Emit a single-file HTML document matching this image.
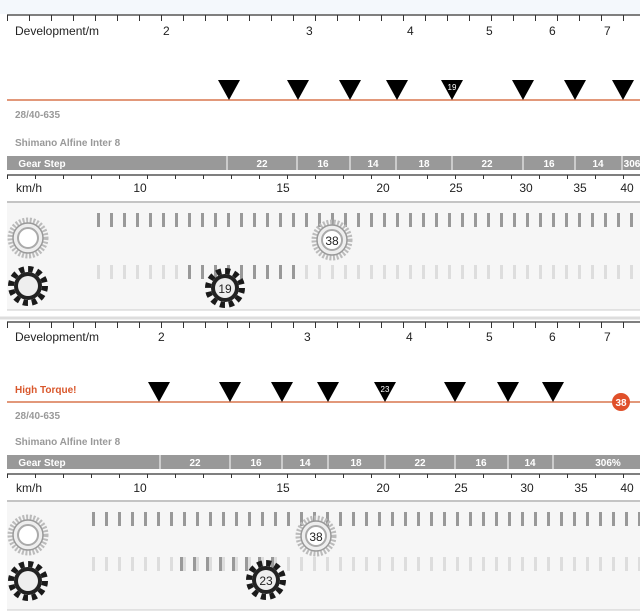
<html><head><style>body{margin:0;background:#fff}svg{display:block;font-family:"Liberation Sans",sans-serif}</style></head><body>
<svg width="640" height="614" viewBox="0 0 640 614" xmlns="http://www.w3.org/2000/svg">
<defs>
<g id="ring"><circle r="18" fill="none" stroke="#bbb" stroke-width="5" stroke-dasharray="2 1.6"/><circle r="15" fill="#eee" stroke="#999" stroke-width="1.5"/><circle r="10" fill="#fff" stroke="#aaa" stroke-width="2"/></g>
<g id="cog"><circle r="17" fill="none" stroke="#1a1a1a" stroke-width="6" stroke-dasharray="5 3.9"/><circle r="14" fill="#222"/><circle r="10" fill="#eee"/></g>
<path id="tri" d="M-11,-20 L11,-20 L0,0 Z" fill="#000"/>
</defs>
<rect x="0" y="0" width="640" height="14" fill="#f4f8fc"/>
<!-- panel 1 -->
<line x1="7" y1="15" x2="640" y2="15" stroke="#333" stroke-width="1.2"/>
<line x1="7" y1="18" x2="640" y2="18" stroke="#333" stroke-width="6" stroke-dasharray="1 21"/>
<g font-size="12" fill="#222"><text x="15" y="35">Development/m</text>
<text x="163" y="35">2</text><text x="306" y="35">3</text><text x="407" y="35">4</text><text x="486" y="35">5</text><text x="549" y="35">6</text><text x="604" y="35">7</text></g>
<line x1="7" y1="100" x2="640" y2="100" stroke="#d9774f" stroke-width="1.5"/>
<use href="#tri" x="229" y="100"/><use href="#tri" x="298" y="100"/><use href="#tri" x="350" y="100"/><use href="#tri" x="397" y="100"/><use href="#tri" x="452" y="100"/><use href="#tri" x="523" y="100"/><use href="#tri" x="575" y="100"/><use href="#tri" x="623" y="100"/>
<text x="452" y="90" font-size="8" fill="#fff" text-anchor="middle">19</text>
<g font-size="10" font-weight="bold" fill="#999"><text x="15" y="118">28/40-635</text><text x="15" y="146">Shimano Alfine Inter 8</text></g>
<rect x="7" y="156" width="633" height="14" fill="#999"/>
<g stroke="#fff" stroke-width="1"><line x1="227" y1="156" x2="227" y2="170"/><line x1="297" y1="156" x2="297" y2="170"/><line x1="350" y1="156" x2="350" y2="170"/><line x1="396" y1="156" x2="396" y2="170"/><line x1="452" y1="156" x2="452" y2="170"/><line x1="523" y1="156" x2="523" y2="170"/><line x1="575" y1="156" x2="575" y2="170"/><line x1="622" y1="156" x2="622" y2="170"/></g>
<g font-size="10" font-weight="bold" fill="#fff" text-anchor="middle"><text x="42" y="167">Gear Step</text><text x="262" y="167">22</text><text x="323" y="167">16</text><text x="373" y="167">14</text><text x="424" y="167">18</text><text x="487" y="167">22</text><text x="549" y="167">16</text><text x="598" y="167">14</text><text x="632" y="167">306</text></g>
<line x1="7" y1="175" x2="640" y2="175" stroke="#333" stroke-width="1.2"/>
<line x1="7" y1="177" x2="640" y2="177" stroke="#333" stroke-width="4" stroke-dasharray="1 27"/>
<g font-size="12" fill="#222" text-anchor="middle"><text x="29" y="192">km/h</text><text x="140" y="192">10</text><text x="283" y="192">15</text><text x="383" y="192">20</text><text x="456" y="192">25</text><text x="526" y="192">30</text><text x="580" y="192">35</text><text x="627" y="192">40</text></g>
<line x1="7" y1="202" x2="640" y2="202" stroke="#888"/>
<rect x="7" y="203" width="633" height="107" fill="#f6f6f6"/>
<line x1="7" y1="310" x2="640" y2="310" stroke="#ccc"/>
<line x1="97" y1="220" x2="640" y2="220" stroke="#999" stroke-width="14" stroke-dasharray="3 10"/>
<line x1="97" y1="272" x2="640" y2="272" stroke="#ddd" stroke-width="14" stroke-dasharray="3 10"/>
<line x1="188" y1="272" x2="300" y2="272" stroke="#999" stroke-width="14" stroke-dasharray="3 10"/>
<use href="#ring" x="28" y="238"/><use href="#cog" x="28" y="286"/>
<use href="#ring" x="332" y="240"/><text x="332" y="245" font-size="12" text-anchor="middle" fill="#222">38</text>
<use href="#cog" x="225" y="288"/><text x="225" y="293" font-size="12" text-anchor="middle" fill="#222">19</text>
<line x1="0" y1="318" x2="640" y2="318" stroke="#ddd" stroke-width="3"/>
<!-- panel 2 -->
<line x1="7" y1="322" x2="640" y2="322" stroke="#333" stroke-width="1.2"/>
<line x1="7" y1="325" x2="640" y2="325" stroke="#333" stroke-width="6" stroke-dasharray="1 21"/>
<g font-size="12" fill="#222"><text x="15" y="341">Development/m</text>
<text x="158" y="341">2</text><text x="304" y="341">3</text><text x="406" y="341">4</text><text x="486" y="341">5</text><text x="549" y="341">6</text><text x="604" y="341">7</text></g>
<text x="15" y="393" font-size="10" font-weight="bold" fill="#d9572b">High Torque!</text>
<line x1="7" y1="402" x2="640" y2="402" stroke="#d9774f" stroke-width="1.5"/>
<use href="#tri" x="159" y="402"/><use href="#tri" x="230" y="402"/><use href="#tri" x="282" y="402"/><use href="#tri" x="328" y="402"/><use href="#tri" x="385" y="402"/><use href="#tri" x="455" y="402"/><use href="#tri" x="508" y="402"/><use href="#tri" x="553" y="402"/>
<text x="385" y="392" font-size="8" fill="#fff" text-anchor="middle">23</text>
<circle cx="621" cy="402" r="9" fill="#e0502a"/><text x="621" y="406" font-size="10" font-weight="bold" fill="#fff" text-anchor="middle">38</text>
<g font-size="10" font-weight="bold" fill="#999"><text x="15" y="419">28/40-635</text><text x="15" y="445">Shimano Alfine Inter 8</text></g>
<rect x="7" y="455" width="633" height="14" fill="#999"/>
<g stroke="#fff" stroke-width="1"><line x1="160" y1="455" x2="160" y2="469"/><line x1="230" y1="455" x2="230" y2="469"/><line x1="282" y1="455" x2="282" y2="469"/><line x1="328" y1="455" x2="328" y2="469"/><line x1="385" y1="455" x2="385" y2="469"/><line x1="455" y1="455" x2="455" y2="469"/><line x1="508" y1="455" x2="508" y2="469"/><line x1="553" y1="455" x2="553" y2="469"/></g>
<g font-size="10" font-weight="bold" fill="#fff" text-anchor="middle"><text x="42" y="466">Gear Step</text><text x="195" y="466">22</text><text x="256" y="466">16</text><text x="305" y="466">14</text><text x="356" y="466">18</text><text x="420" y="466">22</text><text x="481" y="466">16</text><text x="530" y="466">14</text><text x="608" y="466">306%</text></g>
<line x1="7" y1="474" x2="640" y2="474" stroke="#333" stroke-width="1.2"/>
<line x1="7" y1="476" x2="640" y2="476" stroke="#333" stroke-width="4" stroke-dasharray="1 27"/>
<g font-size="12" fill="#222" text-anchor="middle"><text x="29" y="492">km/h</text><text x="140" y="492">10</text><text x="283" y="492">15</text><text x="383" y="492">20</text><text x="461" y="492">25</text><text x="527" y="492">30</text><text x="581" y="492">35</text><text x="627" y="492">40</text></g>
<line x1="7" y1="501" x2="640" y2="501" stroke="#888"/>
<rect x="7" y="502" width="633" height="108" fill="#f6f6f6"/>
<line x1="7" y1="610" x2="640" y2="610" stroke="#ccc"/>
<line x1="92" y1="519" x2="640" y2="519" stroke="#999" stroke-width="14" stroke-dasharray="3 10"/>
<line x1="92" y1="564" x2="640" y2="564" stroke="#ddd" stroke-width="14" stroke-dasharray="3 10"/>
<line x1="180" y1="564" x2="280" y2="564" stroke="#999" stroke-width="14" stroke-dasharray="3 10"/>
<use href="#ring" x="28" y="535"/><use href="#cog" x="28" y="581"/>
<use href="#ring" x="316" y="536"/><text x="316" y="541" font-size="12" text-anchor="middle" fill="#222">38</text>
<use href="#cog" x="266" y="580"/><text x="266" y="585" font-size="12" text-anchor="middle" fill="#222">23</text>
</svg>
</body></html>
